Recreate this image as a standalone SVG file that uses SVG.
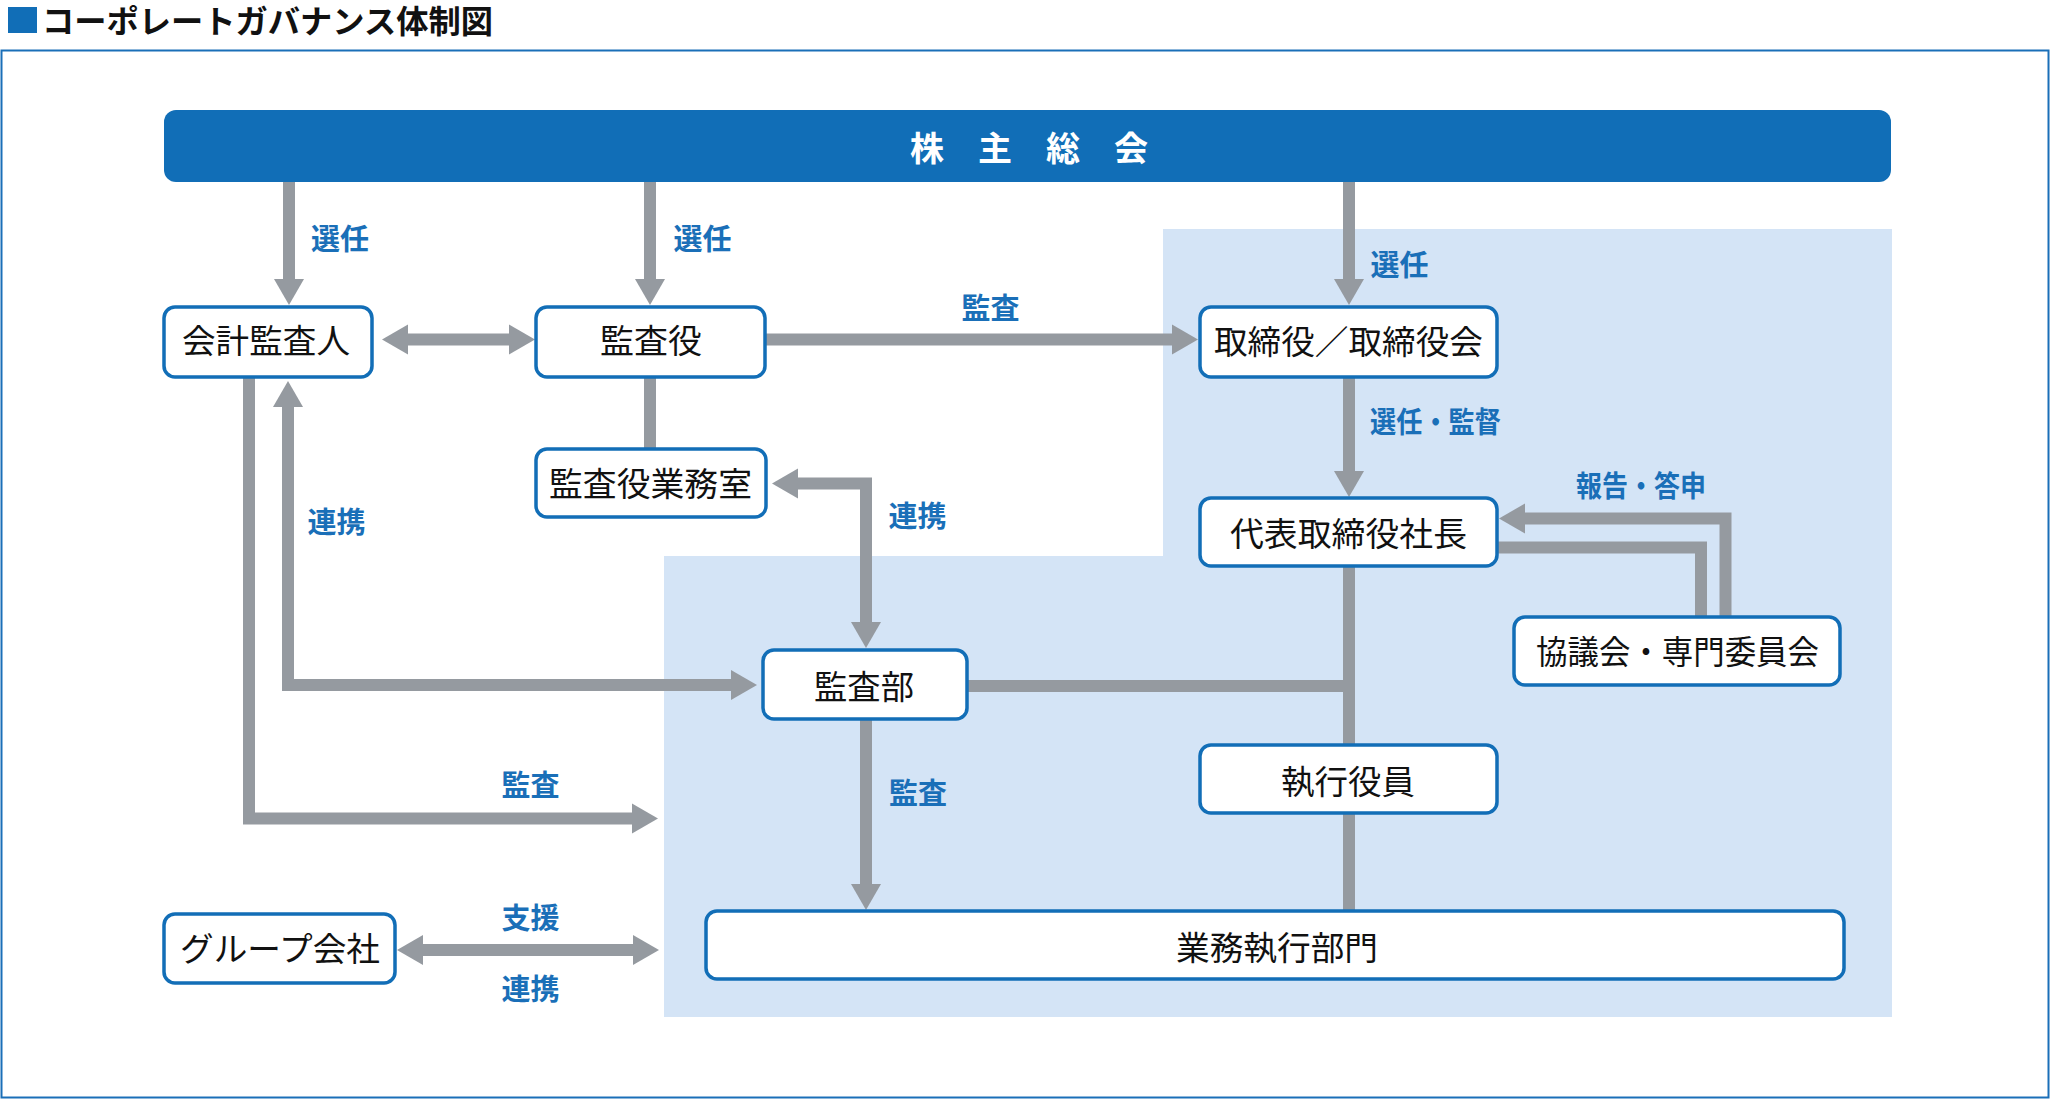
<svg xmlns="http://www.w3.org/2000/svg" width="2051" height="1100" viewBox="0 0 2051 1100">
<style>
.frame{fill:#ffffff;stroke:#1a6fb8;stroke-width:2}
.region{fill:#d4e4f6}
.box{fill:#ffffff;stroke:#126eb7;stroke-width:3.5}
.banner{fill:#116eb7}
.conn{fill:none;stroke:#959aa0;stroke-width:12;stroke-linejoin:miter;stroke-linecap:butt}
.t{font-family:"Noto Sans CJK JP","Noto Sans CJK SC",sans-serif;dominant-baseline:central;text-anchor:middle}
.bt{font-size:33.5px;fill:#111111}
.lb{font-size:29px;font-weight:bold;fill:#1a6fb8}
</style>
<defs>
<marker id="ah" markerUnits="userSpaceOnUse" markerWidth="30" markerHeight="30" refX="1" refY="15" orient="auto-start-reverse" overflow="visible">
<path d="M0,0 L26,15 L0,30 z" fill="#959aa0"/>
</marker>
</defs>
<rect id="frame" class="frame" x="1.5" y="50.5" width="2047" height="1047"/>
<g id="title">
<rect x="8" y="7" width="29" height="26" fill="#116eb7"/>
<text x="42" y="19" class="t" style="text-anchor:start;font-size:32px;font-weight:bold;fill:#111" textLength="451" lengthAdjust="spacingAndGlyphs">コーポレートガバナンス体制図</text>
</g>
<polygon id="exec-region" class="region" points="1163,229 1892,229 1892,1017 664,1017 664,556 1163,556"/>
<g id="connectors">
<path class="conn" d="M289,178 V280" marker-end="url(#ah)"/>
<path class="conn" d="M650,178 V280" marker-end="url(#ah)"/>
<path class="conn" d="M1349,178 V280" marker-end="url(#ah)"/>
<path class="conn" d="M407,339.5 H510" marker-start="url(#ah)" marker-end="url(#ah)"/>
<path class="conn" d="M765,339.5 H1173" marker-end="url(#ah)"/>
<path class="conn" d="M650,377 V450"/>
<path class="conn" d="M797,483.5 H866 V623" marker-start="url(#ah)" marker-end="url(#ah)"/>
<path class="conn" d="M288,406 V685 H732" marker-start="url(#ah)" marker-end="url(#ah)"/>
<path class="conn" d="M249,377 V818.5 H633" marker-end="url(#ah)"/>
<path class="conn" d="M866,719 V885" marker-end="url(#ah)"/>
<path class="conn" d="M1349,377 V472" marker-end="url(#ah)"/>
<path class="conn" d="M1349,566 V912"/>
<path class="conn" d="M966,686 H1349"/>
<path class="conn" d="M1725.5,618 V518.5 H1524" marker-end="url(#ah)"/>
<path class="conn" d="M1497,547.5 H1701 V618"/>
<path class="conn" d="M422,950 H634" marker-start="url(#ah)" marker-end="url(#ah)"/>
</g>
<g id="labels">
<text class="t lb" x="340" y="236.5">選任</text>
<text class="t lb" x="702.5" y="236.5">選任</text>
<text class="t lb" x="1399.5" y="263">選任</text>
<text class="t lb" x="990.5" y="306">監査</text>
<text class="t lb" x="1435.5" y="419.5" textLength="131" lengthAdjust="spacingAndGlyphs">選任・監督</text>
<text class="t lb" x="1641" y="483.5" textLength="130" lengthAdjust="spacingAndGlyphs">報告・答申</text>
<text class="t lb" x="917.5" y="513.5">連携</text>
<text class="t lb" x="336.5" y="519.5">連携</text>
<text class="t lb" x="530.5" y="782.5">監査</text>
<text class="t lb" x="918" y="790.5">監査</text>
<text class="t lb" x="530.5" y="916">支援</text>
<text class="t lb" x="530.5" y="986.5">連携</text>
</g>
<g id="n-shareholders">
<rect class="banner" x="164" y="110" width="1727" height="72" rx="12"/>
<text class="t" x="1029" y="146" style="font-size:34px;font-weight:bold;fill:#ffffff" textLength="238" lengthAdjust="spacing">株 主 総 会</text>
</g>
<g id="n-auditor">
<rect class="box" x="164" y="307" width="208" height="70" rx="11"/>
<text class="t bt" x="266" y="338.5" textLength="168" lengthAdjust="spacingAndGlyphs">会計監査人</text>
</g>
<g id="n-kansayaku">
<rect class="box" x="536" y="307" width="229" height="70" rx="11"/>
<text class="t bt" x="651" y="338.5" textLength="102" lengthAdjust="spacingAndGlyphs">監査役</text>
</g>
<g id="n-board">
<rect class="box" x="1200" y="307" width="297" height="70" rx="11"/>
<text class="t bt" x="1348.5" y="339.5" textLength="269" lengthAdjust="spacingAndGlyphs">取締役／取締役会</text>
</g>
<g id="n-kansayaku-office">
<rect class="box" x="536" y="449" width="230" height="68" rx="11"/>
<text class="t bt" x="650.5" y="481.5" textLength="203" lengthAdjust="spacingAndGlyphs">監査役業務室</text>
</g>
<g id="n-president">
<rect class="box" x="1200" y="498" width="297" height="68" rx="11"/>
<text class="t bt" x="1348.5" y="531.5" textLength="237" lengthAdjust="spacingAndGlyphs">代表取締役社長</text>
</g>
<g id="n-committee">
<rect class="box" x="1514" y="617" width="326" height="68" rx="11"/>
<text class="t bt" x="1677.5" y="649" textLength="283" lengthAdjust="spacingAndGlyphs">協議会・専門委員会</text>
</g>
<g id="n-audit-dept">
<rect class="box" x="763" y="650" width="204" height="69" rx="11"/>
<text class="t bt" x="864" y="684.5" textLength="100" lengthAdjust="spacingAndGlyphs">監査部</text>
</g>
<g id="n-officers">
<rect class="box" x="1200" y="745" width="297" height="68" rx="11"/>
<text class="t bt" x="1348" y="779.5" textLength="134" lengthAdjust="spacingAndGlyphs">執行役員</text>
</g>
<g id="n-operations">
<rect class="box" x="706" y="911" width="1138" height="68" rx="11"/>
<text class="t bt" x="1277" y="945.5" textLength="202" lengthAdjust="spacingAndGlyphs">業務執行部門</text>
</g>
<g id="n-group">
<rect class="box" x="164" y="914" width="231" height="69" rx="11"/>
<text class="t bt" x="280" y="946" textLength="200" lengthAdjust="spacingAndGlyphs">グループ会社</text>
</g>
</svg>
